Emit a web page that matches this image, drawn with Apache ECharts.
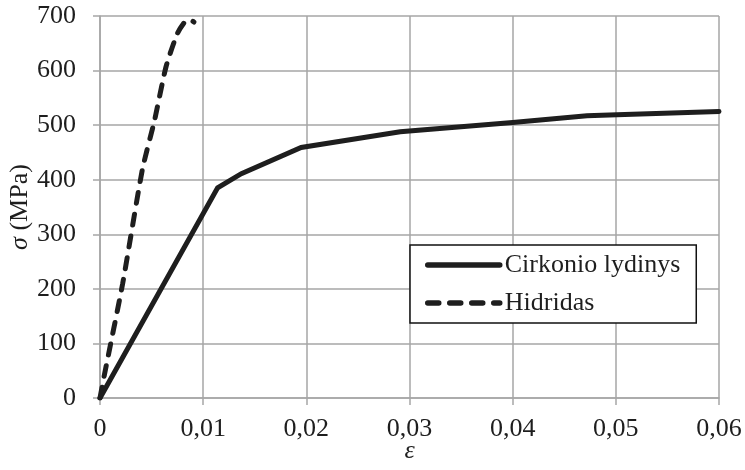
<!DOCTYPE html>
<html>
<head>
<meta charset="utf-8">
<script src="https://cdn.jsdelivr.net/npm/echarts@6/dist/echarts.min.js"></script>
<style>
  html, body { margin: 0; padding: 0; background: #fff; }
  #chart { width: 745px; height: 470px; }
</style>
</head>
<body>
<div id="chart"></div>
<script>
// strain / stress
var zrStrain = [0, 0.0114, 0.0137, 0.0195, 0.0291, 0.040, 0.0472, 0.0501, 0.060];
var zrStress = [0, 385, 411, 459, 488, 505, 517, 519, 525];

var hydStrain = [0, 0.0004, 0.0022, 0.0041, 0.0053, 0.0064, 0.0075, 0.0083, 0.0087, 0.0091];
var hydStress = [0, 40, 210, 418, 510, 607, 668, 691, 693, 689];

var seriesNames = ['Cirkonio lydinys', 'Hidridas'];

var font = 'Liberation Serif, Times New Roman, serif';
var gridColor = '#a6a6a6';
var ink = '#1e1e1e';

function pairs(xs, ys){
    var out = [];
    for (var i = 0; i < xs.length; i++) {
        out.push([xs[i], ys[i]]);
    }
    return out;
}

var chart = echarts.init(document.getElementById('chart'));

var option = {
    animation: false,
    backgroundColor: '#fff',
    grid: {
        left: 100,
        right: 26,
        top: 16,
        bottom: 72,
        containLabel: false,
        outerBoundsMode: 'none'
    },
    legend: {
        data: seriesNames,
        orient: 'vertical',
        left: 410,
        top: 245,
        width: 286,
        padding: [7, 16, 7, 15],
        itemWidth: 72,
        itemHeight: 14,
        itemGap: 12,
        borderColor: '#111',
        borderWidth: 1.5,
        backgroundColor: '#fff',
        itemStyle: { opacity: 0 },
        lineStyle: { width: 5.5, cap: 'round' },
        textStyle: {
            fontFamily: font,
            fontSize: 26,
            lineHeight: 26,
            color: ink
        }
    },
    xAxis: {
        type: 'value',
        min: 0,
        max: 0.06,
        interval: 0.01,
        name: 'ε',
        nameLocation: 'middle',
        nameGap: 40,
        nameMoveOverlap: false,
        nameTextStyle: {
            fontFamily: font,
            fontSize: 26,
            fontStyle: 'italic',
            color: ink
        },
        axisLine: { lineStyle: { color: gridColor, width: 1.5 } },
        axisTick: { show: true, length: 7, lineStyle: { color: gridColor, width: 1.5 } },
        splitLine: { show: true, lineStyle: { color: gridColor, width: 1.5 } },
        axisLabel: {
            margin: 18,
            fontFamily: font,
            fontSize: 26,
            color: ink,
            formatter: function(v){
                if (v === 0) return '0';
                return v.toFixed(2).replace('.', ',');
            }
        }
    },
    yAxis: {
        type: 'value',
        min: 0,
        max: 700,
        interval: 100,
        name: '{i|σ} (MPa)',
        nameLocation: 'middle',
        nameGap: 67,
        nameMoveOverlap: false,
        nameTextStyle: {
            fontFamily: font,
            fontSize: 26,
            color: ink,
            rich: {
                i: { fontFamily: font, fontSize: 26, fontStyle: 'italic', color: ink }
            }
        },
        axisLine: { show: true, lineStyle: { color: gridColor, width: 1.5 } },
        axisTick: { show: true, length: 7, lineStyle: { color: gridColor, width: 1.5 } },
        splitLine: { show: true, lineStyle: { color: gridColor, width: 1.5 } },
        axisLabel: {
            margin: 24,
            fontFamily: font,
            fontSize: 26,
            color: ink
        }
    },
    series: [
        {
            name: seriesNames[0],
            type: 'line',
            data: pairs(zrStrain, zrStress),
            symbol: 'none',
            showSymbol: false,
            itemStyle: { color: ink },
            lineStyle: { color: ink, width: 5, cap: 'round', join: 'miter' }
        },
        {
            name: seriesNames[1],
            type: 'line',
            data: pairs(hydStrain, hydStress),
            symbol: 'none',
            showSymbol: false,
            smooth: 0.2,
            itemStyle: { color: ink },
            lineStyle: { color: ink, width: 5, type: [11, 11], cap: 'round' }
        }
    ]
};

chart.setOption(option);
</script>
</body>
</html>
